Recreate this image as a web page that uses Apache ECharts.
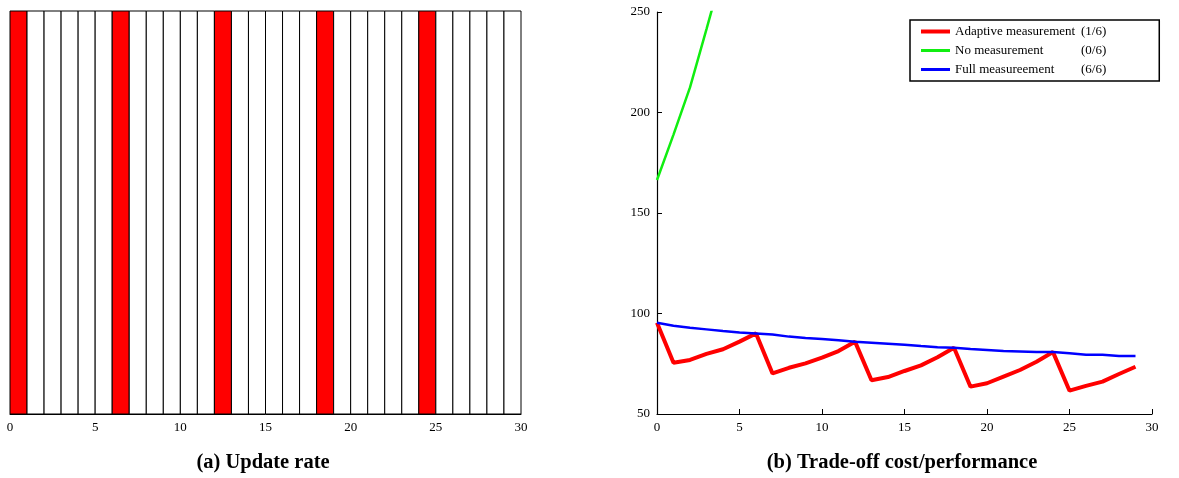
<!DOCTYPE html>
<html>
<head>
<meta charset="utf-8">
<script src="https://cdn.jsdelivr.net/npm/echarts@6/dist/echarts.min.js"></script>
<style>
html,body{margin:0;padding:0;background:#fff;}
#c{width:1179px;height:478px;}
</style>
</head>
<body>
<div id="c"></div>
<script>
// ---- data ----
const xTicks = [0, 5, 10, 15, 20, 25, 30];
const yTicks = [50, 100, 150, 200, 250];
// 1 = measurement update at this step, 0 = no update
const updateFlags = [1,0,0,0,0,0,1,0,0,0,0,0,1,0,0,0,0,0,1,0,0,0,0,0,1,0,0,0,0,0];
const steps = [0,1,2,3,4,5,6,7,8,9,10,11,12,13,14,15,16,17,18,19,20,21,22,23,24,25,26,27,28,29];
const adaptive = [95.4,75.5,76.9,79.9,82.2,86.0,90.1,70.2,73.0,75.2,78.0,81.3,86.0,66.8,68.4,71.4,74.2,78.2,83.0,63.6,65.3,68.6,71.9,76.0,80.8,61.6,64.0,66.1,69.9,73.5];
const noMeasSteps = [0,1,2,3,4];
const noMeas = [166.4,189.0,212.5,241.5,271.0];
const full = [95.4,93.9,92.9,92.1,91.3,90.6,90.1,89.6,88.5,87.8,87.3,86.7,86.0,85.5,85.0,84.5,83.8,83.2,83.0,82.3,81.8,81.3,81.1,80.8,80.8,80.2,79.5,79.5,78.9,78.9];
const seriesNames = ['Adaptive measurement', 'No measurement', 'Full measureement'];
const seriesFracs = ['(1/6)', '(0/6)', '(6/6)'];
const titles = ['(a) Update rate', '(b) Trade-off cost/performance'];

const FONT = 'Liberation Serif';
const chart = echarts.init(document.getElementById('c'));

const fracOf = {};
seriesNames.forEach((n, i) => fracOf[n] = seriesFracs[i]);

const axisLabel = {color: '#000', fontFamily: FONT, fontSize: 13, margin: 7};
const titleStyle = {fontFamily: FONT, fontSize: 20.5, fontWeight: 'bold', color: '#000'};
const thickIcon = 'path://M0,0L29,0L29,4L0,4Z';
const thinIcon = 'path://M0,0L29,0L29,3L0,3Z';

chart.setOption({
  animation: false,
  backgroundColor: '#fff',
  title: [
    {text: titles[0], left: 263, top: 452, textAlign: 'center', padding: 0, textStyle: titleStyle},
    {text: titles[1], left: 902, top: 452, textAlign: 'center', padding: 0, textStyle: titleStyle}
  ],
  legend: {
    left: 910, top: 20, orient: 'vertical',
    padding: [5, 53, 5, 11],
    borderColor: '#000', borderWidth: 1.5,
    itemWidth: 29, itemHeight: 14, itemGap: 6,
    symbolKeepAspect: true,
    data: [
      {name: seriesNames[0], icon: thickIcon},
      {name: seriesNames[1], icon: thinIcon},
      {name: seriesNames[2], icon: thinIcon}
    ],
    formatter: n => '{n|' + n + '}{f|' + fracOf[n] + '}',
    textStyle: {
      fontFamily: FONT, fontSize: 13, color: '#000',
      rich: {
        n: {width: 126, fontFamily: FONT, fontSize: 13, color: '#000'},
        f: {fontFamily: FONT, fontSize: 13, color: '#000'}
      }
    }
  },
  grid: [
    {left: 10, right: 658, top: 11, bottom: 64},
    {left: 657, right: 27, top: 12, bottom: 64}
  ],
  xAxis: [
    {gridIndex: 0, type: 'value', min: 0, max: 30, interval: 5,
     axisLine: {show: true, lineStyle: {color: '#000', width: 1}},
     axisTick: {show: false}, splitLine: {show: false},
     axisLabel: axisLabel},
    {gridIndex: 1, type: 'value', min: 0, max: 30, interval: 5,
     axisLine: {show: true, onZero: false, lineStyle: {color: '#000', width: 1.2}},
     axisTick: {show: true, inside: true, length: 5, lineStyle: {color: '#000'}},
     splitLine: {show: false},
     axisLabel: axisLabel}
  ],
  yAxis: [
    {gridIndex: 0, type: 'value', min: 0, max: 1, show: false},
    {gridIndex: 1, type: 'value', min: 50, max: 250, interval: 50,
     axisLine: {show: true, onZero: false, lineStyle: {color: '#000', width: 1.2}},
     axisTick: {show: true, inside: true, length: 5, lineStyle: {color: '#000'}},
     splitLine: {show: false},
     axisLabel: axisLabel}
  ],
  series: [
    {
      type: 'custom', xAxisIndex: 0, yAxisIndex: 0,
      data: updateFlags.map((f, i) => [steps[i], f]),
      renderItem: function (params, api) {
        const i = api.value(0);
        const f = api.value(1);
        const p0 = api.coord([i, 1]);
        const p1 = api.coord([i + 1, 0]);
        return {
          type: 'rect',
          shape: {x: p0[0], y: p0[1], width: p1[0] - p0[0], height: p1[1] - p0[1]},
          style: {fill: f ? '#ff0000' : '#ffffff', stroke: '#000', lineWidth: 1}
        };
      }
    },
    {
      name: seriesNames[0], type: 'line', xAxisIndex: 1, yAxisIndex: 1,
      data: adaptive.map((v, i) => [steps[i], v]),
      symbol: 'none', color: '#ff0000',
      lineStyle: {color: '#ff0000', width: 4}, z: 3
    },
    {
      name: seriesNames[1], type: 'line', xAxisIndex: 1, yAxisIndex: 1,
      data: noMeas.map((v, i) => [noMeasSteps[i], v]),
      symbol: 'none', color: '#11ee11', clip: true,
      lineStyle: {color: '#11ee11', width: 2.5}
    },
    {
      name: seriesNames[2], type: 'line', xAxisIndex: 1, yAxisIndex: 1,
      data: full.map((v, i) => [steps[i], v]),
      symbol: 'none', color: '#0000ff',
      lineStyle: {color: '#0000ff', width: 2.5}, z: 4
    }
  ]
});
</script>
</body>
</html>
